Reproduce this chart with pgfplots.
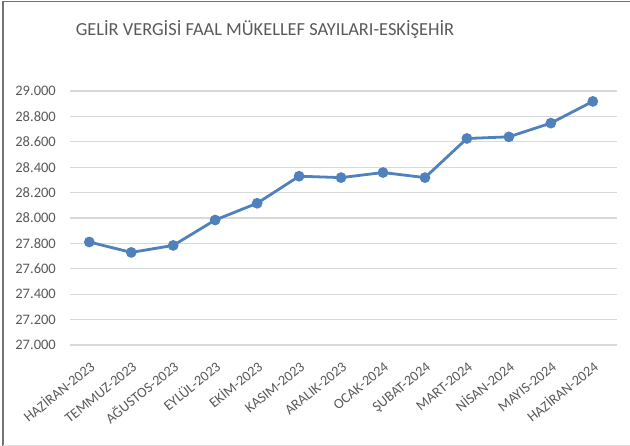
\documentclass[border=0pt]{standalone}
\usepackage{pgfplots}
\pgfplotsset{compat=1.18}
\usepackage{fontspec}
\setmainfont{Carlito}
\definecolor{txt}{HTML}{595959}
\definecolor{grd}{HTML}{D9D9D9}
\definecolor{ln}{HTML}{4F81BD}
\begin{document}
\begin{tikzpicture}[x=1bp,y=1bp]
\path[use as bounding box] (0,0) rectangle (630,446);
\draw[line width=1.2bp,color=black!55] (3,0) -- (3,444.5) -- (630,444.5);
\draw[line width=0.8bp,color=black!12] (3,1) -- (630,1);
\node[text=txt,font=\fontsize{18.4bp}{22bp}\selectfont] at (265,416) {GELİR VERGİSİ FAAL MÜKELLEF SAYILARI-ESKİŞEHİR};
\begin{axis}[
  at={(70bp,101bp)}, anchor=south west,
  scale only axis, width=546.7bp, height=254bp,
  xmin=-0.46, xmax=12.57, ymin=27000, ymax=29000,
  ytick={27000,27200,...,29000},
  scaled y ticks=false,
  xtick={0,...,12},
  xticklabels={HAZİRAN-2023,TEMMUZ-2023,AĞUSTOS-2023,EYLÜL-2023,EKİM-2023,KASIM-2023,ARALIK-2023,OCAK-2024,ŞUBAT-2024,MART-2024,NİSAN-2024,MAYIS-2024,HAZİRAN-2024},
  axis line style={draw=none},
  tick style={draw=none},
  ymajorgrids, grid style={grd, line width=1.2bp},
  tick label style={text=txt},
  yticklabel style={font=\fontsize{14.5bp}{17bp}\selectfont, anchor=east, inner sep=0pt, xshift=-14bp},
  /pgf/number format/fixed,
  /pgf/number format/precision=0,
  /pgf/number format/1000 sep={.},
  /pgf/number format/assume math mode=true,
  xticklabel style={font=\fontsize{14.3bp}{17bp}\selectfont, xshift=6.5bp, yshift=-23.5bp, rotate=39, anchor=base east, inner sep=0pt},
  clip=false,
]
\addplot[color=ln, line width=2.8bp, mark=*, mark size=3.9bp, mark options={fill=ln, draw=ln}]
coordinates {(0,27811) (1,27729) (2,27784) (3,27984) (4,28116) (5,28329) (6,28318) (7,28358) (8,28318) (9,28626) (10,28639) (11,28747) (12,28918)};
\end{axis}
\end{tikzpicture}
\end{document}
